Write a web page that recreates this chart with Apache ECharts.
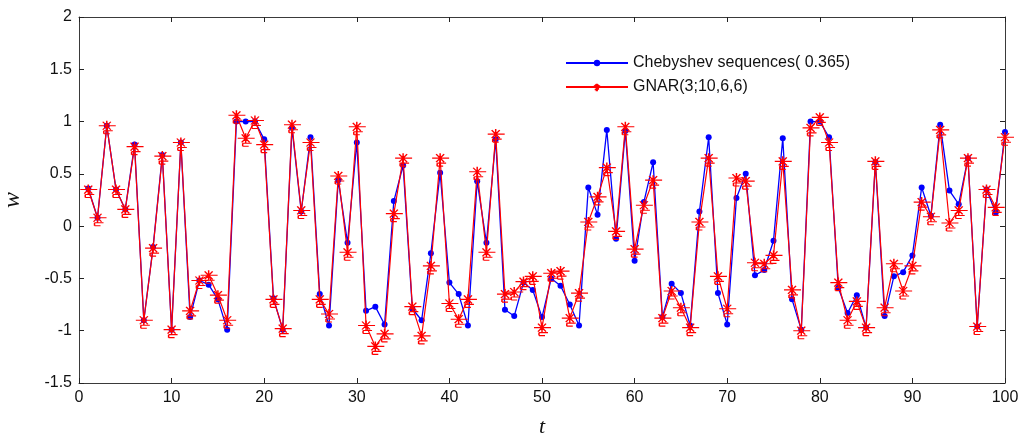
<!DOCTYPE html>
<html>
<head>
<meta charset="utf-8">
<script src="https://cdn.jsdelivr.net/npm/echarts@6/dist/echarts.min.js"></script>
<style>
html,body{margin:0;padding:0;background:#fff;}
#chart{width:1024px;height:437px;}
</style>
</head>
<body>
<div id="chart"></div>
<script>
// time index t = 1..100
const tValues = Array.from({length: 100}, (_, i) => i + 1);

const chebyshev = [
  0.36, 0.08, 0.96, 0.35, 0.16, 0.78, -0.90, -0.20, 0.68, -0.99,
  0.80, -0.87, -0.52, -0.56, -0.70, -0.99, 1.00, 1.00, 1.00, 0.83,
  -0.69, -0.99, 0.94, 0.14, 0.85,
  -0.65, -0.95, 0.44, -0.16, 0.80, -0.81, -0.77, -0.94, 0.24, 0.58,
  -0.79, -0.90, -0.26, 0.51, -0.54, -0.65, -0.95, 0.43, -0.16, 0.83,
  -0.80, -0.86, -0.54, -0.61, -0.87,
  -0.50, -0.57, -0.75, -0.95, 0.37, 0.11, 0.92, -0.12, 0.91, -0.33,
  0.23, 0.61, -0.87, -0.55, -0.64, -0.95, 0.14, 0.85, -0.64, -0.94,
  0.27, 0.50, -0.47, -0.42, -0.14,
  0.84, -0.70, -0.99, 1.00, 1.00, 0.85, -0.59, -0.83, -0.66, -0.97,
  0.61, -0.86, -0.48, -0.44, -0.28, 0.37, 0.10, 0.97, 0.34, 0.21,
  0.65, -0.96, 0.35, 0.13, 0.90
];

const gnar = [
  0.35, 0.08, 0.96, 0.35, 0.16, 0.76, -0.90, -0.21, 0.67, -0.99,
  0.80, -0.81, -0.52, -0.47, -0.66, -0.90, 1.06, 0.84, 1.01, 0.78,
  -0.70, -0.98, 0.97, 0.15, 0.80,
  -0.70, -0.84, 0.48, -0.25, 0.95, -0.95, -1.15, -1.03, 0.12, 0.65,
  -0.77, -1.05, -0.38, 0.65, -0.74, -0.89, -0.70, 0.52, -0.25, 0.88,
  -0.65, -0.63, -0.53, -0.48, -0.97,
  -0.45, -0.43, -0.88, -0.64, 0.04, 0.28, 0.56, -0.05, 0.95, -0.22,
  0.20, 0.44, -0.88, -0.62, -0.78, -0.97, 0.04, 0.65, -0.48, -0.79,
  0.46, 0.43, -0.35, -0.36, -0.28,
  0.62, -0.61, -1.00, 0.94, 1.04, 0.80, -0.54, -0.90, -0.72, -0.97,
  0.62, -0.78, -0.36, -0.62, -0.38, 0.23, 0.09, 0.92, 0.03, 0.15,
  0.65, -0.96, 0.35, 0.18, 0.85
];

const seriesNames = ['Chebyshev sequences( 0.365)', 'GNAR(3;10,6,6)'];
const xAxisName = 't';
const yAxisName = 'w';

const chart = echarts.init(document.getElementById('chart'), null, {renderer: 'canvas'});

const starPath = 'path://M-8,0L9,0M0,-5L0,5M-4,-4L4,4M-4,4L4,-4M-3,5L6,5M-3,5L-3,8M-3,8L3,8';

const axisLineStyle = {color: '#3a3a3a', width: 1};
const labelStyle = {color: '#111', fontSize: 16, fontFamily: 'Liberation Sans, Arial, sans-serif'};

const option = {
  backgroundColor: '#fff',
  animation: false,
  grid: {left: 79, right: 19, top: 17, bottom: 54, containLabel: false, outerBoundsMode: 'none'},
  legend: {
    data: seriesNames,
    orient: 'vertical',
    left: 560,
    top: 50,
    itemWidth: 62,
    itemHeight: 8,
    itemGap: 8,
    textStyle: {color: '#111', fontSize: 16, fontFamily: 'Liberation Sans, Arial, sans-serif'}
  },
  xAxis: [
    {
      type: 'value', min: 0, max: 100, interval: 10, position: 'bottom',
      name: xAxisName, nameLocation: 'middle', nameGap: 33,
      nameTextStyle: {fontStyle: 'italic', fontSize: 22, fontFamily: 'Liberation Serif, Times New Roman, serif', color: '#111'},
      axisLine: {show: true, onZero: false, lineStyle: axisLineStyle},
      axisTick: {show: true, inside: true, length: 5, lineStyle: {color: '#222'}},
      axisLabel: Object.assign({margin: 7}, labelStyle),
      splitLine: {show: false}
    },
    {
      type: 'value', min: 0, max: 100, interval: 10, position: 'top',
      axisLine: {show: true, onZero: false, lineStyle: axisLineStyle},
      axisTick: {show: true, inside: true, length: 5, lineStyle: {color: '#222'}},
      axisLabel: {show: false},
      splitLine: {show: false}
    }
  ],
  yAxis: [
    {
      type: 'value', min: -1.5, max: 2, interval: 0.5, position: 'left',
      name: yAxisName, nameLocation: 'middle', nameGap: 54, nameRotate: 90,
      nameTextStyle: {fontStyle: 'italic', fontSize: 24, fontFamily: 'Liberation Serif, Times New Roman, serif', color: '#111'},
      axisLine: {show: true, onZero: false, lineStyle: axisLineStyle},
      axisTick: {show: true, inside: true, length: 5, lineStyle: {color: '#222'}},
      axisLabel: Object.assign({margin: 7}, labelStyle),
      splitLine: {show: false}
    },
    {
      type: 'value', min: -1.5, max: 2, interval: 0.5, position: 'right',
      axisLine: {show: true, onZero: false, lineStyle: axisLineStyle},
      axisTick: {show: true, inside: true, length: 5, lineStyle: {color: '#222'}},
      axisLabel: {show: false},
      splitLine: {show: false}
    }
  ],
  series: [
    {
      name: seriesNames[0],
      type: 'line',
      xAxisIndex: 0, yAxisIndex: 0,
      data: tValues.map((t, i) => [t, chebyshev[i]]),
      symbol: 'circle',
      symbolSize: 6,
      lineStyle: {color: '#0000ff', width: 1.3},
      itemStyle: {color: '#0000ff'},
      z: 2
    },
    {
      name: seriesNames[1],
      type: 'line',
      xAxisIndex: 0, yAxisIndex: 0,
      data: tValues.map((t, i) => [t, gnar[i]]),
      symbol: starPath,
      symbolSize: [17, 13],
      symbolOffset: [0.5, 1.5],
      lineStyle: {color: '#ff0000', width: 1.2},
      itemStyle: {color: 'rgba(255,0,0,0)', borderColor: '#ff0000', borderWidth: 1.3},
      z: 3
    }
  ]
};
chart.setOption(option);
</script>
</body>
</html>
